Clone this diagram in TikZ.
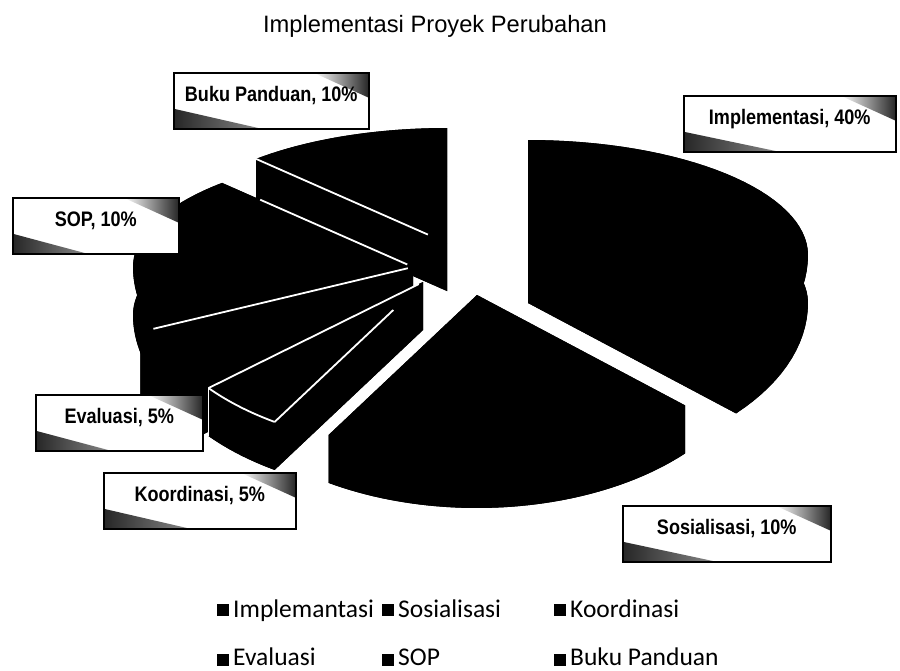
\documentclass[tikz,border=0pt]{standalone}
\usepackage{fontspec}
\setmainfont{Liberation Sans}
\newfontfamily\lblfont[FakeStretch=0.86]{Liberation Sans}
\newfontfamily\legfont{Carlito}
\usetikzlibrary{calc}

% pie sizes (pt): half width, back and front half depth, height
\def\pa{280}
\def\pbb{115}
\def\pbf{165}
\def\ph{48}

\tikzset{
 declare function={rimx(\t)=\pa*sin(\t);
  rimy(\t)=-cos(\t)*((cos(\t)>0)*\pbb+(1-(cos(\t)>0))*\pbf);},
 pieblk/.style={fill=black},
 hilite/.style={draw=white,line width=1.8pt},
 lbl/.style={draw=black,fill=white,line width=1.5pt,inner xsep=0pt,inner ysep=0pt,
  minimum height=56pt,text height=29pt,text depth=27pt,anchor=north west,
  font=\lblfont\bfseries\fontsize{21}{24}\selectfont,
  path picture={
   \shade[left color=black!85,right color=white] (path picture bounding box.south west)
    -- ++(0,-20) -- ($(path picture bounding box.south west)!0.45!(path picture bounding box.south east)$) -- cycle;
   \shade[left color=white,right color=black!85] (path picture bounding box.north east)
    -- ++(-55,0) -- ++(55,25) -- cycle;}},
 ttl/.style={font=\fontsize{23.7}{28}\selectfont,anchor=base,inner sep=0pt},
 legsq/.style={fill=black,minimum size=12pt,inner sep=0pt},
 legtxt/.style={font=\legfont\fontsize{25.5}{30}\selectfont,anchor=base west,inner sep=0pt}
}

% one slice: apex, from angle, to angle (clockwise from top)
\newcommand{\pieslice}[3]{%
 \begin{scope}[shift={(#1)}]
 \fill[pieblk] (0,0) -- plot[domain=#2:#3] ({rimx(\x)},{rimy(\x)}) -- cycle;
 \fill[pieblk] (0,\ph) -- plot[domain=#2:#3] ({rimx(\x)},{rimy(\x)+\ph}) -- cycle;
 \fill[pieblk] plot[domain=#2:#3] ({rimx(\x)},{rimy(\x)}) -- plot[domain=#3:#2] ({rimx(\x)},{rimy(\x)+\ph}) -- cycle;
 \fill[pieblk] (0,0) -- ({rimx(#2)},{rimy(#2)}) -- ({rimx(#2)},{rimy(#2)+\ph}) -- (0,\ph) -- cycle;
 \fill[pieblk] (0,0) -- ({rimx(#3)},{rimy(#3)}) -- ({rimx(#3)},{rimy(#3)+\ph}) -- (0,\ph) -- cycle;
 \end{scope}}

% white edge on top face: apex, angle, from and to fraction
\newcommand{\pieedge}[4]{%
 \begin{scope}[shift={(#1)}]
 \draw[hilite] ({#3*rimx(#2)},{#3*rimy(#2)}) -- ({#4*rimx(#2)},{#4*rimy(#2)});
 \end{scope}}

\begin{document}
\begin{tikzpicture}[x=1pt,y=-1pt,samples=48]
\useasboundingbox (0,0) rectangle (900,670);

\coordinate (bukuc) at (447,243);
\coordinate (implc) at (528,255);
\coordinate (sopc) at (413,267);
\coordinate (evalc) at (400,289);
\coordinate (koorc) at (423,282);
\coordinate (sosc) at (477,295);

% slices, back to front
\pieslice{bukuc}{317}{360}
\pieedge{bukuc}{317}{0.1}{1}
\pieslice{implc}{0}{132}
\pieslice{sopc}{248}{317}
\pieedge{sopc}{317}{0.03}{0.8}
\pieedge{sopc}{248}{0.02}{1}
\pieslice{evalc}{230}{248}
\pieslice{koorc}{212}{230}
\pieedge{koorc}{230}{0.02}{1}
\pieedge{koorc}{212}{0.2}{1}
\begin{scope}[shift={(koorc)}]
\draw[hilite] plot[domain=212:230] ({rimx(\x)},{rimy(\x)});
\draw[hilite,line width=1.2pt] ({rimx(230)},{rimy(230)}) -- ++(0,\ph);
\end{scope}
\pieslice{sosc}{132}{212}

% data labels
\node[lbl,minimum width=195pt] (lbbuku) at (173,72) {Buku Panduan, 10\%};
\node[lbl,minimum width=212pt] (lbimpl) at (683,95) {Implementasi, 40\%};
\node[lbl,minimum width=166pt] (lbsop) at (12,197) {SOP, 10\%};
\node[lbl,minimum width=167pt] (lbeval) at (35,394) {Evaluasi, 5\%};
\node[lbl,minimum width=192pt] (lbkoor) at (103,472) {Koordinasi, 5\%};
\node[lbl,minimum width=208pt] (lbsos) at (622,505) {Sosialisasi, 10\%};

\node[ttl] (title) at (435,32) {Implementasi Proyek Perubahan};

% legend
\node[legsq] (sqimpl) at (223,610) {};
\node[legtxt] (lgimpl) at (233,617) {Implemantasi};
\node[legsq] (sqsos) at (388,610) {};
\node[legtxt] (lgsos) at (398,617) {Sosialisasi};
\node[legsq] (sqkoor) at (560,610) {};
\node[legtxt] (lgkoor) at (570,617) {Koordinasi};
\node[legsq] (sqeval) at (223,660) {};
\node[legtxt] (lgeval) at (233,665) {Evaluasi};
\node[legsq] (sqsop) at (388,660) {};
\node[legtxt] (lgsop) at (398,665) {SOP};
\node[legsq] (sqbuku) at (560,660) {};
\node[legtxt] (lgbuku) at (570,665) {Buku Panduan};
\end{tikzpicture}
\end{document}
